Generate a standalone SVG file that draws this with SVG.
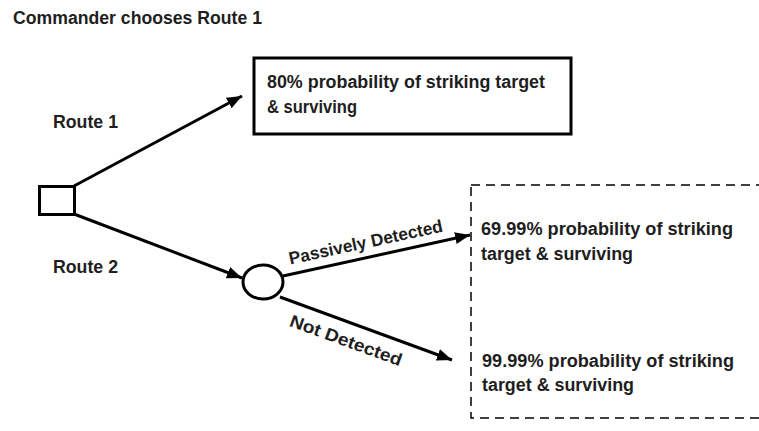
<svg xmlns="http://www.w3.org/2000/svg" width="759" height="431" viewBox="0 0 759 431">
  <style>
    .txt { font-family: "Liberation Sans", Arial, sans-serif; font-weight: bold; font-size: 17.5px; fill: #1e1e1e; }
    .edge { stroke: #000; stroke-width: 3; fill: none; marker-end: url(#arrow); }
    .node { stroke: #000; stroke-width: 3; fill: #fff; }
  </style>
  <defs>
    <marker id="arrow" markerUnits="userSpaceOnUse" markerWidth="16" markerHeight="14" refX="15" refY="6" orient="auto">
      <path d="M0,0 L15,6 L0,12 Z" fill="#000"/>
    </marker>
  </defs>
  <rect width="759" height="431" fill="#fff"/>

  <text class="txt" x="13" y="24" textLength="249" lengthAdjust="spacingAndGlyphs">Commander chooses Route 1</text>

  <!-- connectors -->
  <g id="connectors">
    <line class="edge" x1="74" y1="186" x2="242" y2="96"/>
    <line class="edge" x1="74" y1="214" x2="242" y2="278"/>
    <line class="edge" x1="283" y1="276" x2="470" y2="235"/>
    <line class="edge" x1="280" y1="297" x2="452" y2="360"/>
    <text class="txt" x="0" y="0" transform="translate(367,248) rotate(-12.2)" text-anchor="middle" textLength="157" lengthAdjust="spacingAndGlyphs">Passively Detected</text>
    <text class="txt" x="0" y="0" transform="translate(344,346) rotate(20)" text-anchor="middle" textLength="118" lengthAdjust="spacingAndGlyphs">Not Detected</text>
    <text class="txt" x="53" y="128" textLength="65" lengthAdjust="spacingAndGlyphs">Route 1</text>
    <text class="txt" x="53" y="273" textLength="65" lengthAdjust="spacingAndGlyphs">Route 2</text>
  </g>

  <!-- decision node -->
  <g id="decision">
    <rect class="node" x="39.5" y="186.5" width="35" height="28"/>
  </g>

  <!-- chance node -->
  <g id="chance">
    <ellipse class="node" cx="263" cy="282" rx="20" ry="17"/>
  </g>

  <!-- Route 1 outcome -->
  <g id="outcome-route1">
    <rect x="254" y="58" width="317" height="76" fill="#fff" stroke="#000" stroke-width="3"/>
    <text class="txt" x="267" y="88" textLength="278" lengthAdjust="spacingAndGlyphs">80% probability of striking target</text>
    <text class="txt" x="267" y="113" textLength="90" lengthAdjust="spacingAndGlyphs">&amp; surviving</text>
  </g>

  <!-- Route 2 outcomes -->
  <g id="outcome-route2">
    <rect x="471" y="185" width="320" height="233" fill="none" stroke="#000" stroke-width="1.5" stroke-dasharray="9,6"/>
    <text class="txt" x="481" y="235" textLength="252" lengthAdjust="spacingAndGlyphs">69.99% probability of striking</text>
    <text class="txt" x="481" y="260" textLength="152" lengthAdjust="spacingAndGlyphs">target &amp; surviving</text>
    <text class="txt" x="482" y="367" textLength="252" lengthAdjust="spacingAndGlyphs">99.99% probability of striking</text>
    <text class="txt" x="482" y="391" textLength="152" lengthAdjust="spacingAndGlyphs">target &amp; surviving</text>
  </g>
</svg>
